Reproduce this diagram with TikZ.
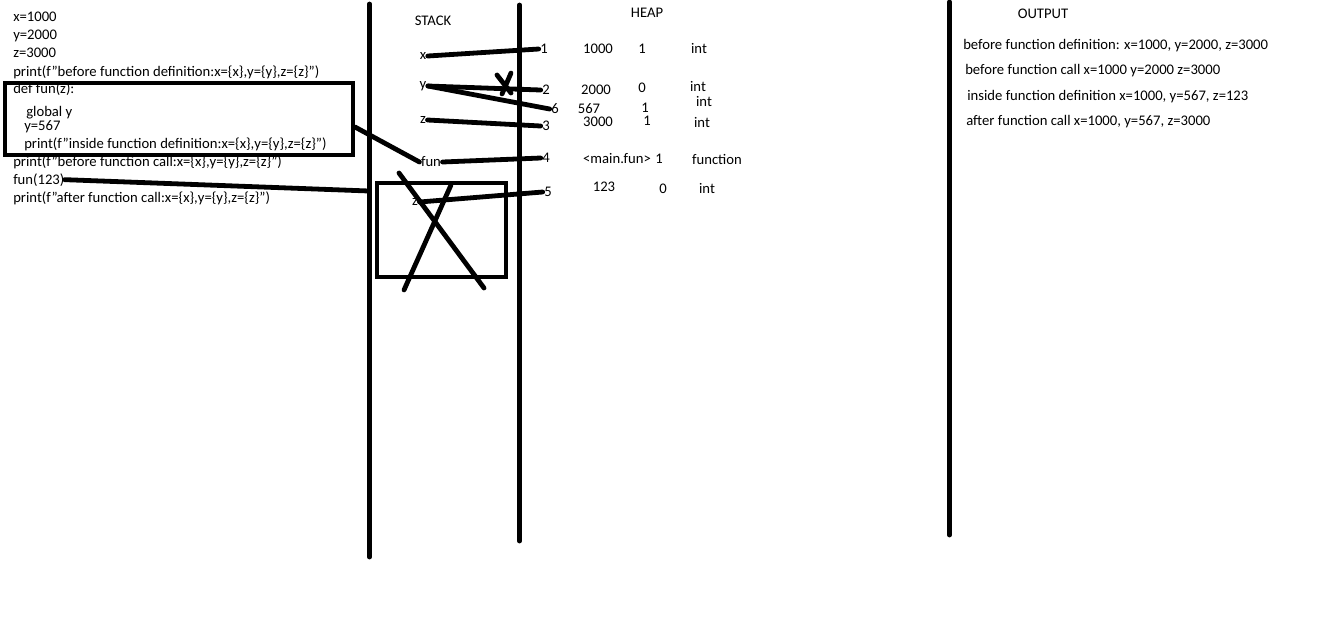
\documentclass[tikz,border=0pt]{standalone}
\usepackage{fontspec}
\setmainfont{Carlito}
\newcommand\dq{\symbol{34}}

\begin{document}
\begin{tikzpicture}[x=0.75pt,y=-0.75pt,
    pen/.style={line width=3.6pt,line cap=round},
    frame/.style={draw,line width=3pt,inner sep=0pt},
    code/.style={anchor=base west,inner sep=0pt,font=\fontsize{11}{13}\selectfont},
    cell/.style={inner sep=1pt,font=\fontsize{11}{13}\selectfont}]
    \useasboundingbox (0,0) rectangle (1344,619);
    % program
    \node[code] (c1)  at (13,21.5)  {x=1000};
    \node[code] (c2)  at (13,39.5)  {y=2000};
    \node[code] (c3)  at (13,57.5)  {z=3000};
    \node[code] (c4)  at (13,76)    {print(f\dq before function definition:x=\{x\},y=\{y\},z=\{z\}\dq)};
    \node[code] (c5)  at (13,93.5)  {def fun(z):};
    \node[code] (c6)  at (26,116)   {global y};
    \node[code] (c7)  at (24,130)   {y=567};
    \node[code] (c8)  at (24,148)   {print(f\dq inside function definition:x=\{x\},y=\{y\},z=\{z\}\dq)};
    \node[code] (c9)  at (13,166.5) {print(f\dq before function call:x=\{x\},y=\{y\},z=\{z\}\dq)};
    \node[code] (c10) at (13,184)   {fun(123)};
    \node[code] (c11) at (13,202)   {print(f\dq after function call:x=\{x\},y=\{y\},z=\{z\}\dq)};
    \node[frame,minimum width=261pt,minimum height=54pt] (defbox) at (179,119) {};
    % columns
    \draw[pen] (369.5,4) -- (369.5,557);
    \draw[pen] (519.5,5) -- (519.5,541);
    \draw[pen] (949.5,2) -- (949.5,535);
    \node[cell] (stack)  at (433,21)   {STACK};
    \node[cell] (heap)   at (647,13)   {HEAP};
    \node[cell] (output) at (1043,14)  {OUTPUT};
    % stack names
    \node[cell] (sx)   at (423,56)  {x};
    \node[cell] (sy)   at (423,86)  {y};
    \node[cell] (sz)   at (423,120) {z};
    \node[cell] (sfun) at (431,162) {fun};
    \node[cell] (sz2)  at (415,202) {z};
    \node[frame,minimum width=96.75pt,minimum height=70.5pt] (callbox) at (441.5,230) {};
    % heap objects
    \node[cell] (h1) at (544,49)  {1};
    \node[cell] (h2) at (546,90)  {2};
    \node[cell] (h6) at (555,109) {6};
    \node[cell] (h3) at (546,126) {3};
    \node[cell] (h4) at (546,158) {4};
    \node[cell] (h5) at (548,192) {5};
    \node[cell] (v1) at (598,49)  {1000};
    \node[cell] (v2) at (596,90)  {2000};
    \node[cell] (v6) at (589,109) {567};
    \node[cell] (v3) at (598,122) {3000};
    \node[cell] (v4) at (617,159) {<main.fun>};
    \node[cell] (v5) at (604,187) {123};
    \node[cell] (r1) at (642,49)  {1};
    \node[cell] (r2) at (642,88)  {0};
    \node[cell] (r6) at (645,108) {1};
    \node[cell] (r3) at (647,121) {1};
    \node[cell] (r4) at (659,159) {1};
    \node[cell] (r5) at (663,189) {0};
    \node[cell] (t1) at (699,49)  {int};
    \node[cell] (t2) at (698,87)  {int};
    \node[cell] (t6) at (704,102) {int};
    \node[cell] (t3) at (702,123) {int};
    \node[cell] (t4) at (717,159) {function};
    \node[cell] (t5) at (707,188) {int};
    % references
    \draw[pen] (sx.east)   -- (h1.west);
    \draw[pen] (sy.east)   -- (h2.west);
    \draw[pen] (sy.east)   -- (h6.west);
    \draw[pen] (sz.east)   -- (h3.west);
    \draw[pen] (sfun.east) -- (h4.west);
    \draw[pen] (sz2.east)  -- (h5.west);
    \draw[pen] ([yshift=-6pt]defbox.east) -- (sfun.west);
    \coordinate (callend) at (369,191);
    \draw[pen] (c10.east) -- (callend);
    % crossed out
    \draw[pen] (497,75) -- (511,93);
    \draw[pen] (511,73) -- (502,94);
    \draw[pen] (399,173) -- (484,288);
    \draw[pen] (451,185) -- (404,290);
    % output
    \node[code] (o1) at (963,49.5)  {before function definition: x=1000, y=2000, z=3000};
    \node[code] (o2) at (965,74.5)  {before function call x=1000 y=2000 z=3000};
    \node[code] (o3) at (967,100.5) {inside function definition x=1000, y=567, z=123};
    \node[code] (o4) at (966,125.5) {after function call x=1000, y=567, z=3000};
\end{tikzpicture}
\end{document}
